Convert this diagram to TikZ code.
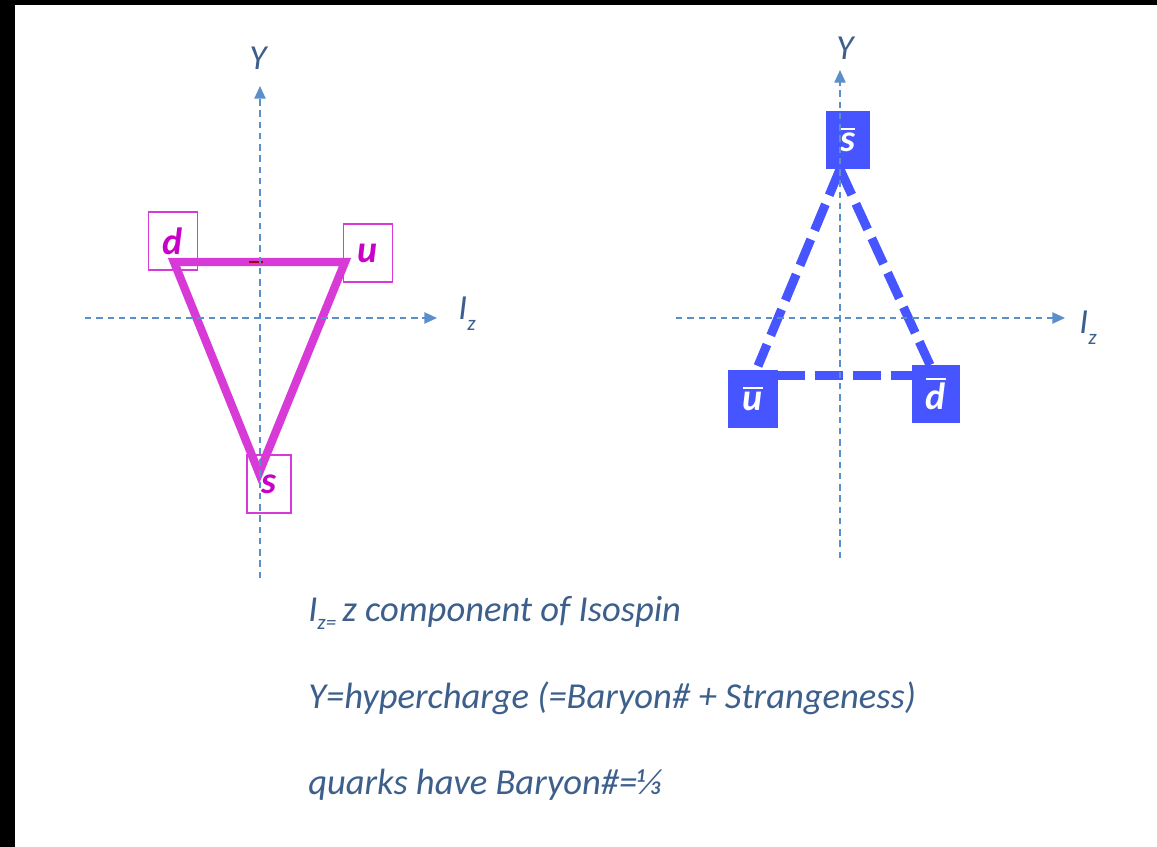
\documentclass[tikz,border=0pt]{standalone}
\usepackage{fontspec}
\setmainfont{Carlito}
\usetikzlibrary{arrows.meta}

\definecolor{axisblue}{RGB}{91,143,201}
\definecolor{labelblue}{RGB}{60,95,140}
\definecolor{quarkline}{RGB}{216,58,216}
\definecolor{quarktext}{RGB}{200,0,200}
\definecolor{antiblue}{RGB}{70,85,255}

% bar over an antiquark letter
\newcommand{\qbar}[1]{\setbox0\hbox{#1}\vbox{\hrule height 1.6pt\kern 2.2pt\box0}}
\newcommand{\zsub}[2]{\raisebox{#1}{\fontsize{15}{15}\selectfont #2}}

\tikzset{
  axis/.style={axisblue, line width=1.1pt, dash pattern=on 4.5pt off 3.5pt,
    -{Triangle[length=9pt,width=8pt]}},
  axislabel/.style={labelblue, inner sep=0pt, font=\fontsize{25}{25}\selectfont\itshape},
  quarkbox/.style={draw=quarkline, line width=0.9pt, minimum height=1.45cm,
    minimum width=1.22cm, inner sep=0pt, text=quarktext,
    font=\fontsize{27}{27}\selectfont\bfseries\itshape},
  antibox/.style={fill=antiblue, minimum height=1.45cm, minimum width=1.2cm,
    inner sep=0pt, text=white, font=\fontsize{27}{27}\selectfont\bfseries\itshape},
  tri/.style={quarkline, line width=5.9pt, line join=miter},
  antiline/.style={antiblue, line width=6.4pt, dash pattern=on 20pt off 7pt},
  note/.style={labelblue, anchor=base west, inner sep=0pt,
    font=\fontsize{26}{26}\selectfont\itshape}
}

\begin{document}
\begin{tikzpicture}[x=0.025cm, y=-0.025cm]
    \useasboundingbox (0,0) rectangle (1157,847);
    \fill[white] (0,0) rectangle (1157,847);
    \fill[black] (0,0) rectangle (1157,5);
    \fill[black] (0,0) rectangle (15,847);

    % quark triplet
    \coordinate (dc) at (174,262);
    \coordinate (uc) at (345,262);
    \coordinate (sc) at (259,473);
    \node[quarkbox] (d) at (173,241) {d};
    \node[quarkbox] (u) at (368,253) {u};
    \node[quarkbox, minimum width=1.1cm] (s) at (269,484) {s};
    \draw[tri] (dc) -- (uc) -- (sc) -- cycle;
    \draw[red!70!black, line width=1.5pt] (249,262) -- (263,262);

    % antiquark triplet
    \node[antibox, minimum width=1.12cm] (sbar) at (848,140) {\qbar{s}};
    \node[antibox, minimum width=1.23cm] (ubar) at (753,399) {\qbar{u}};
    \node[antibox] (dbar) at (936,394) {\qbar{d}};
    \coordinate (ubc) at (758,366);
    \coordinate (dbc) at (930,365);
    \coordinate (hl) at (777,375);
    \coordinate (hr) at (912,375);
    \draw[antiline] (sbar.south -| 840,0) -- (ubc);
    \draw[antiline] (sbar.south -| 840,0) -- (dbc);
    \draw[antiline] (hl) -- (hr);

    % axes
    \coordinate (ly0) at (260,578);
    \coordinate (ly1) at (260,86);
    \coordinate (lx0) at (85,318);
    \coordinate (lx1) at (437,318);
    \coordinate (ry0) at (840,558);
    \coordinate (ry1) at (840,70);
    \coordinate (rx0) at (676,318);
    \coordinate (rx1) at (1065,318);
    \draw[axis] (ly0) -- (ly1);
    \draw[axis] (lx0) -- (lx1);
    \draw[axis] (ry0) -- (ry1);
    \draw[axis] (rx0) -- (rx1);
    \node[axislabel] (ly) at (258,58) {Y};
    \node[axislabel] (lx) at (467,314) {I\zsub{-8pt}{z}};
    \node[axislabel] (ry) at (845,48) {Y};
    \node[axislabel] (rx) at (1088,328) {I\zsub{-8pt}{z}};

    % notes
    \node[note] (isospin) at (308,621) {I\zsub{-6pt}{z=}\,z component of Isospin};
    \node[note] (hyper) at (308,708) {Y=hypercharge (=Baryon\# + Strangeness)};
    \node[note] (baryon) at (308,794) {quarks have Baryon\#=⅓};
\end{tikzpicture}
\end{document}
